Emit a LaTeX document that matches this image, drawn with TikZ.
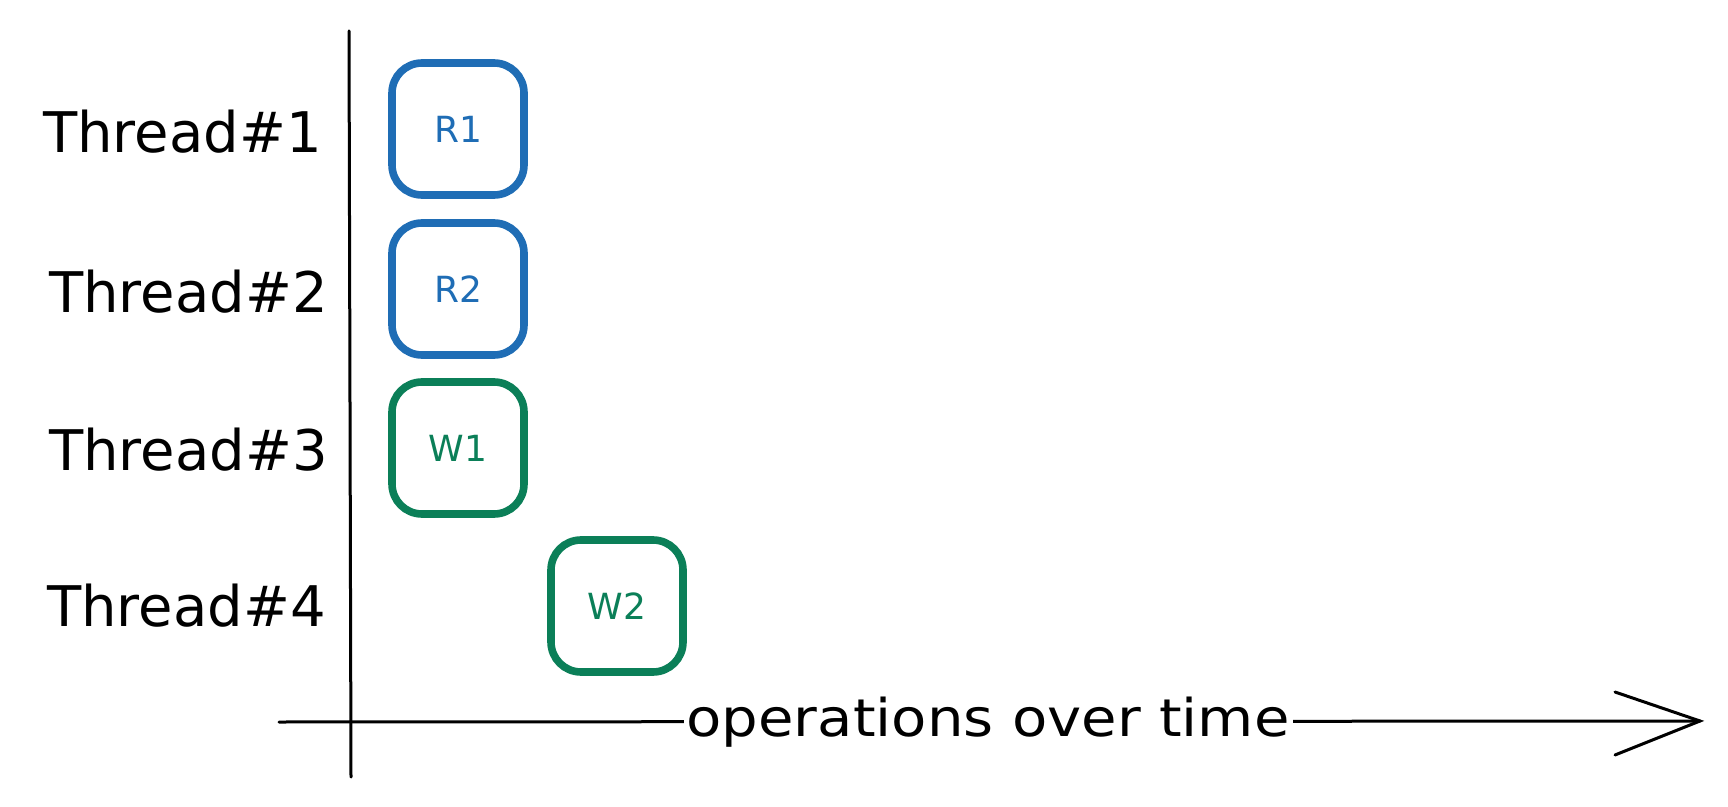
\documentclass[tikz,border=0pt]{standalone}
\usepackage{fontspec}
\setmainfont{DejaVu Sans}
\newfontfamily\widefont[FakeStretch=1.11]{DejaVu Sans}
\definecolor{rblue}{HTML}{1F6DB5}
\definecolor{wgreen}{HTML}{0B7F58}
\tikzset{
  opbox/.style={draw, line width=3.8pt, rounded corners=15pt, minimum width=66pt, minimum height=66pt, inner sep=0pt, font=\fontsize{18}{20}\selectfont},
  rbox/.style={opbox, draw=rblue, text=rblue},
  wbox/.style={opbox, draw=wgreen, text=wgreen},
  thread/.style={anchor=east, inner sep=0pt, font=\fontsize{28}{32}\selectfont},
  axis/.style={line width=1.5pt, black, line cap=round},
}
\begin{document}
\begin{tikzpicture}[x=0.5pt,y=-0.5pt]
\useasboundingbox (0,0) rectangle (1728,807);
% axes
\coordinate (vtop) at (349,31);
\coordinate (vbot) at (351,777);
\coordinate (hstart) at (279,722);
\coordinate (hend) at (1700,721);
\coordinate (barbA) at (1615,692);
\coordinate (barbB) at (1615,755);
\draw[axis] (vtop) -- (vbot);
\draw[axis] (hstart) -- (hend);
\draw[axis] (barbA) -- (hend) -- (barbB);
\node[fill=white, inner xsep=1.5pt, inner ysep=2pt, font=\widefont\fontsize{26}{30}\selectfont] (xlabel) at (988,722) {operations over time};
% thread labels
\node[thread] (t1) at (322,132) {Thread\#1};
\node[thread] (t2) at (328,292) {Thread\#2};
\node[thread] (t3) at (328,450) {Thread\#3};
\node[thread] (t4) at (326,606) {Thread\#4};
% operation boxes
\node[rbox] (r1) at (458,129) {R1};
\node[rbox] (r2) at (458,289) {R2};
\node[wbox] (w1) at (458,448) {W1};
\node[wbox] (w2) at (617,606) {W2};
\end{tikzpicture}
\end{document}
